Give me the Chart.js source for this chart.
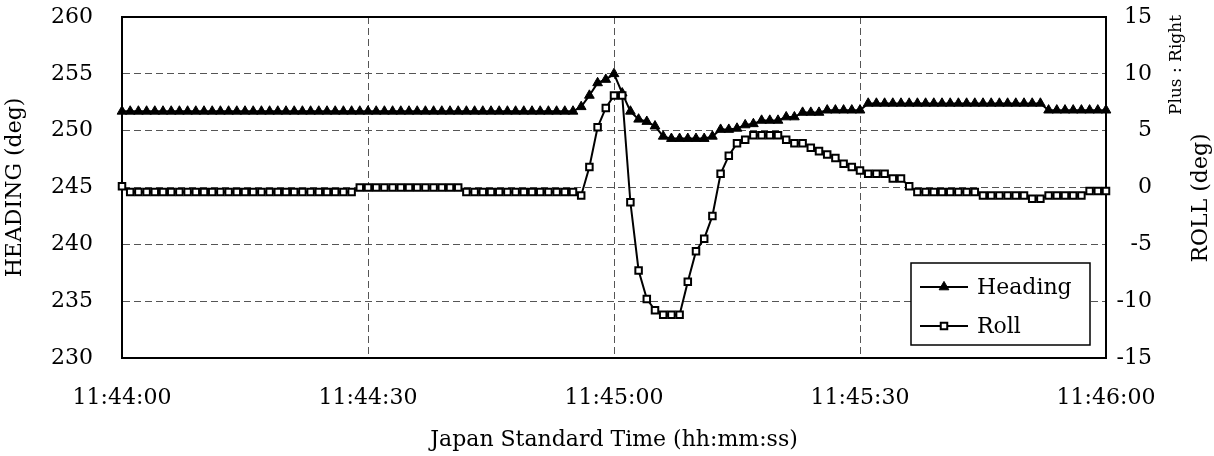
<!DOCTYPE html>
<html>
<head>
<meta charset="utf-8">
<script src="https://cdn.jsdelivr.net/npm/chart.js@4.4.1/dist/chart.umd.min.js"></script>
<style>
    html, body { margin: 0; padding: 0; background: #fff; }
    #wrap { width: 1214px; height: 456px; position: relative; }
</style>
</head>
<body>
<div id="wrap"><canvas id="attitudeChart"></canvas></div>
<script>
// Axis tick labels (every 30 s)
const timeTicks = ['11:44:00', '11:44:30', '11:45:00', '11:45:30', '11:46:00'];

// One sample per second, seconds after 11:44:00
const seconds = Array.from({ length: 121 }, (_, i) => i);

// Heading (deg)
const heading = [
    251.7, 251.7, 251.7, 251.7, 251.7, 251.7, 251.7, 251.7, 251.7, 251.7,
    251.7, 251.7, 251.7, 251.7, 251.7, 251.7, 251.7, 251.7, 251.7, 251.7,
    251.7, 251.7, 251.7, 251.7, 251.7, 251.7, 251.7, 251.7, 251.7, 251.7,
    251.7, 251.7, 251.7, 251.7, 251.7, 251.7, 251.7, 251.7, 251.7, 251.7,
    251.7, 251.7, 251.7, 251.7, 251.7, 251.7, 251.7, 251.7, 251.7, 251.7,
    251.7, 251.7, 251.7, 251.7, 251.7, 251.7, 252.1, 253.1, 254.2, 254.5,
    255.0, 253.3, 251.7, 251.0, 250.8, 250.4, 249.5, 249.3, 249.3, 249.3,
    249.3, 249.3, 249.5, 250.1, 250.1, 250.2, 250.5, 250.6, 250.9, 250.9,
    250.9, 251.2, 251.2, 251.6, 251.6, 251.6, 251.8, 251.8, 251.8, 251.8,
    251.8, 252.4, 252.4, 252.4, 252.4, 252.4, 252.4, 252.4, 252.4, 252.4,
    252.4, 252.4, 252.4, 252.4, 252.4, 252.4, 252.4, 252.4, 252.4, 252.4,
    252.4, 252.4, 252.4, 251.8, 251.8, 251.8, 251.8, 251.8, 251.8, 251.8,
    251.8
];

// Roll (deg), plus = right
const roll = [
    0.1, -0.4, -0.4, -0.4, -0.4, -0.4, -0.4, -0.4, -0.4, -0.4,
    -0.4, -0.4, -0.4, -0.4, -0.4, -0.4, -0.4, -0.4, -0.4, -0.4,
    -0.4, -0.4, -0.4, -0.4, -0.4, -0.4, -0.4, -0.4, -0.4, 0.0,
    0.0, 0.0, 0.0, 0.0, 0.0, 0.0, 0.0, 0.0, 0.0, 0.0,
    0.0, 0.0, -0.4, -0.4, -0.4, -0.4, -0.4, -0.4, -0.4, -0.4,
    -0.4, -0.4, -0.4, -0.4, -0.4, -0.4, -0.7, 1.8, 5.3, 7.0,
    8.1, 8.1, -1.3, -7.3, -9.8, -10.8, -11.2, -11.2, -11.2, -8.3,
    -5.6, -4.5, -2.5, 1.2, 2.8, 3.9, 4.2, 4.6, 4.6, 4.6,
    4.6, 4.2, 3.9, 3.9, 3.5, 3.2, 2.9, 2.6, 2.1, 1.8,
    1.5, 1.2, 1.2, 1.2, 0.8, 0.8, 0.1, -0.4, -0.4, -0.4,
    -0.4, -0.4, -0.4, -0.4, -0.4, -0.7, -0.7, -0.7, -0.7, -0.7,
    -0.7, -1.0, -1.0, -0.7, -0.7, -0.7, -0.7, -0.7, -0.3, -0.3,
    -0.3
];

const FONT = "'DejaVu Serif', 'Liberation Serif', serif";
Chart.defaults.font.family = FONT;
Chart.defaults.font.size = 22;
Chart.defaults.color = '#000';

// Top edge of the plot frame (left/right/bottom come from the axes)
const frameTop = {
    id: 'frameTop',
    beforeDatasetsDraw(chart) {
        const { ctx, chartArea: a } = chart;
        ctx.save();
        ctx.strokeStyle = '#000';
        ctx.lineWidth = 2;
        ctx.beginPath();
        ctx.moveTo(a.left - 1, a.top);
        ctx.lineTo(a.right + 1, a.top);
        ctx.stroke();
        ctx.restore();
    }
};

// Legend box inside the plot, lower right
const boxLegend = {
    id: 'boxLegend',
    afterDraw(chart) {
        const { ctx, chartArea: a } = chart;
        const w = 179, h = 82;
        const x = a.right - 16 - w, y = a.bottom - 13 - h;
        ctx.save();
        ctx.fillStyle = '#fff';
        ctx.fillRect(x, y, w, h);
        ctx.strokeStyle = '#000';
        ctx.lineWidth = 1.5;
        ctx.strokeRect(x, y, w, h);
        ctx.font = '22px ' + FONT;
        ctx.textBaseline = 'middle';
        ctx.textAlign = 'left';
        const rows = [chart.data.datasets[1], chart.data.datasets[0]];
        rows.forEach((ds, i) => {
            const cy = y + 24 + i * 39;
            ctx.strokeStyle = '#000';
            ctx.lineWidth = 2;
            ctx.beginPath();
            ctx.moveTo(x + 9, cy);
            ctx.lineTo(x + 57, cy);
            ctx.stroke();
            ctx.fillStyle = ds.pointBackgroundColor;
            ctx.strokeStyle = ds.pointBorderColor;
            ctx.lineWidth = ds.pointBorderWidth;
            Chart.helpers.drawPoint(ctx, {
                pointStyle: ds.pointStyle,
                radius: ds.pointRadius,
                borderWidth: ds.pointBorderWidth
            }, x + 33, cy);
            ctx.fillStyle = '#000';
            ctx.fillText(ds.label, x + 66, cy + 1);
        });
        ctx.restore();
    }
};

// Right-hand axis titles (read bottom to top)
const rightTitles = {
    id: 'rightTitles',
    afterDraw(chart) {
        const { ctx } = chart;
        ctx.save();
        ctx.fillStyle = '#000';
        ctx.textAlign = 'center';
        ctx.textBaseline = 'middle';
        ctx.translate(1201, 198);
        ctx.rotate(-Math.PI / 2);
        ctx.font = '22px ' + FONT;
        ctx.fillText('ROLL (deg)', 0, 0);
        ctx.restore();

        ctx.save();
        ctx.fillStyle = '#000';
        ctx.textAlign = 'center';
        ctx.textBaseline = 'middle';
        ctx.translate(1177, 65);
        ctx.rotate(-Math.PI / 2);
        ctx.font = '17px ' + FONT;
        ctx.fillText('Plus : Right', 0, 0);
        ctx.restore();
    }
};

const ctx = document.getElementById('attitudeChart').getContext('2d');
const attitudeChart = new Chart(ctx, {
    type: 'line',
    data: {
        labels: seconds,
        datasets: [{
                label: 'Roll',
                data: roll,
                yAxisID: 'y1',
                borderColor: '#000',
                borderWidth: 2,
                pointStyle: 'rect',
                pointRadius: 4.6,
                pointBorderWidth: 2,
                pointBackgroundColor: '#fff',
                pointBorderColor: '#000',
                tension: 0,
                clip: false,
                order: 1
            },
            {
                label: 'Heading',
                data: heading,
                yAxisID: 'y',
                borderColor: '#000',
                borderWidth: 2,
                pointStyle: 'triangle',
                pointRadius: 5.6,
                pointBorderWidth: 1,
                pointBackgroundColor: '#000',
                pointBorderColor: '#000',
                tension: 0,
                clip: false,
                order: 2
            }
        ]
    },
    options: {
        responsive: true,
        maintainAspectRatio: false,
        animation: false,
        layout: { padding: { top: 17, left: 0, right: 62, bottom: 0 } },
        scales: {
            x: {
                type: 'linear',
                min: 0,
                max: 120,
                afterFit: (scale) => {
                    scale.height = 98;
                    scale.paddingLeft = 0;
                    scale.paddingRight = 0;
                },
                ticks: {
                    stepSize: 30,
                    padding: 27,
                    maxRotation: 0,
                    callback: (v) => timeTicks[v / 30]
                },
                grid: { color: '#555', lineWidth: 1, drawTicks: false },
                border: { display: true, color: '#000', width: 2, dash: [7, 4] },
                title: {
                    display: true,
                    text: 'Japan Standard Time (hh:mm:ss)',
                    padding: { top: 0, bottom: 3 }
                }
            },
            y: {
                position: 'left',
                min: 230,
                max: 260,
                afterFit: (scale) => {
                    scale.width = 122;
                    scale.paddingTop = 0;
                    scale.paddingBottom = 0;
                },
                ticks: { stepSize: 5, padding: 29 },
                grid: { color: '#555', lineWidth: 1, drawTicks: false },
                border: { display: true, color: '#000', width: 2, dash: [7, 4] },
                title: {
                    display: true,
                    text: 'HEADING (deg)',
                    padding: { top: 2, bottom: 0 }
                }
            },
            y1: {
                position: 'right',
                min: -15,
                max: 15,
                afterFit: (scale) => {
                    scale.width = 46;
                    scale.paddingTop = 0;
                    scale.paddingBottom = 0;
                },
                ticks: { stepSize: 5, padding: 12, crossAlign: 'far' },
                grid: { display: false, drawTicks: false },
                border: { display: true, color: '#000', width: 2 }
            }
        },
        plugins: {
            legend: { display: false },
            tooltip: { enabled: false }
        }
    },
    plugins: [frameTop, boxLegend, rightTitles]
});
</script>
</body>
</html>
